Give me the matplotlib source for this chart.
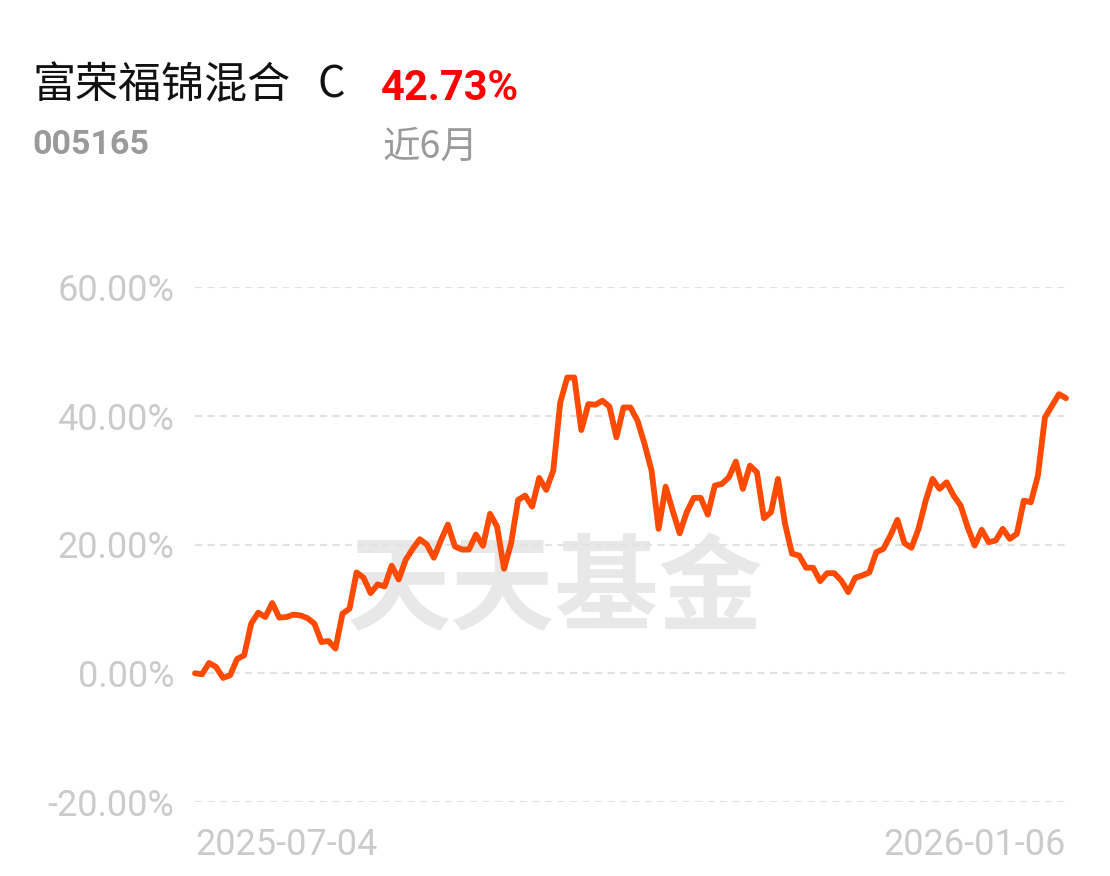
import matplotlib
matplotlib.use('Agg')
import matplotlib.pyplot as plt
import numpy as np

# Fund info
fund_name = "富荣福锦混合"
fund_class = "C"
fund_code = "005165"
period_return = "42.73%"
period_label = "近6月"

# Cumulative return (%), one point per trading day
returns = [0.00, -0.16, 1.60, 0.98, -0.73, -0.31, 2.22, 2.79, 7.71, 9.41,
           8.73, 10.90, 8.64, 8.73, 9.10, 8.99, 8.57, 7.71, 4.85, 5.01,
           3.83, 9.26, 10.03, 15.66, 14.84, 12.45, 13.80, 13.49, 16.70, 14.57,
           17.63, 19.33, 20.82, 20.00, 17.94, 20.62, 23.10, 19.69, 19.22, 19.22,
           21.55, 19.80, 24.76, 22.79, 16.23, 20.20, 26.93, 27.60, 25.89, 30.34,
           28.48, 31.47, 42.06, 45.94, 45.94, 37.78, 41.81, 41.71, 42.33, 41.44,
           36.64, 41.29, 41.29, 39.22, 35.61, 31.47, 22.43, 28.99, 25.27, 21.75,
           25.01, 27.24, 27.24, 24.65, 29.15, 29.41, 30.43, 32.87, 28.64, 32.25,
           31.21, 24.08, 25.01, 30.19, 23.21, 18.56, 18.29, 16.39, 16.39, 14.31,
           15.55, 15.55, 14.42, 12.60, 14.84, 15.19, 15.66, 18.81, 19.33, 21.40,
           23.83, 20.20, 19.49, 22.43, 26.71, 30.19, 28.64, 29.66, 27.60, 26.05,
           22.68, 19.84, 22.28, 20.36, 20.62, 22.43, 20.88, 21.66, 26.82, 26.56,
           30.70, 39.74, 41.55, 43.36, 42.73]

# Axis labels
y_ticks = [-20, 0, 20, 40, 60]
y_tick_labels = ["-20.00%", "0.00%", "20.00%", "40.00%", "60.00%"]
x_tick_labels = ["2025-07-04", "2026-01-06"]

plt.rcParams['font.family'] = ['Roboto', 'Noto Sans CJK SC', 'DejaVu Sans']

fig = plt.figure(figsize=(11.1, 8.76), dpi=100)
ax = fig.add_axes([195 / 1110, 1 - 802 / 876, 871 / 1110, 515 / 876])

x = np.arange(len(returns))
ax.plot(x, returns, color='#ff4a00', lw=4.2, solid_joinstyle='round',
        solid_capstyle='round', zorder=3, clip_on=False)

# dashed grid lines
for yv in y_ticks:
    ax.axhline(yv, color='#e2e2e2', lw=1.5, ls=(0, (3.4, 2.6)), zorder=1)

ax.set_xlim(0, len(returns) - 1)
ax.set_ylim(-20, 60)
ax.set_yticks(y_ticks, y_tick_labels)
ax.set_xticks([0, len(returns) - 1], x_tick_labels)
ax.tick_params(length=0, labelsize=26, labelcolor='#cbcbcb')
ax.tick_params(axis='y', pad=15)
ax.tick_params(axis='x', pad=18)
xl = ax.get_xticklabels()
xl[0].set_ha('left')
xl[1].set_ha('right')
for s in ax.spines.values():
    s.set_visible(False)

# watermark, behind the grid and the line
ax.text(555 / 1110, 1 - 591 / 876, "天天基金", transform=fig.transFigure,
        family=['Noto Sans CJK SC'], weight='bold', fontsize=75,
        color='#e8e8e8', ha='center', va='center', zorder=0)

# header
fig.text(33 / 1110, 1 - 86 / 876, fund_name, family=['Noto Sans CJK SC'],
         fontsize=31, color='#111111', va='center', ha='left')
fig.text(317 / 1110, 1 - 86 / 876, fund_class, family=['Noto Sans CJK SC'],
         fontsize=31, color='#111111', va='center', ha='left')
fig.text(381 / 1110, 1 - 88 / 876, period_return, family=['Roboto'],
         weight='bold', fontsize=30, color='#ff0000', va='center', ha='left')
fig.text(32 / 1110, 1 - 145 / 876, fund_code, family=['Roboto'],
         weight='bold', fontsize=24.5, color='#9a9a9a', va='center', ha='left')
fig.text(382 / 1110, 1 - 147 / 876, period_label,
         family=['Noto Sans CJK SC'], fontsize=27, color='#9a9a9a',
         va='center', ha='left')

fig.savefig('out.png', dpi=100, facecolor='white')
